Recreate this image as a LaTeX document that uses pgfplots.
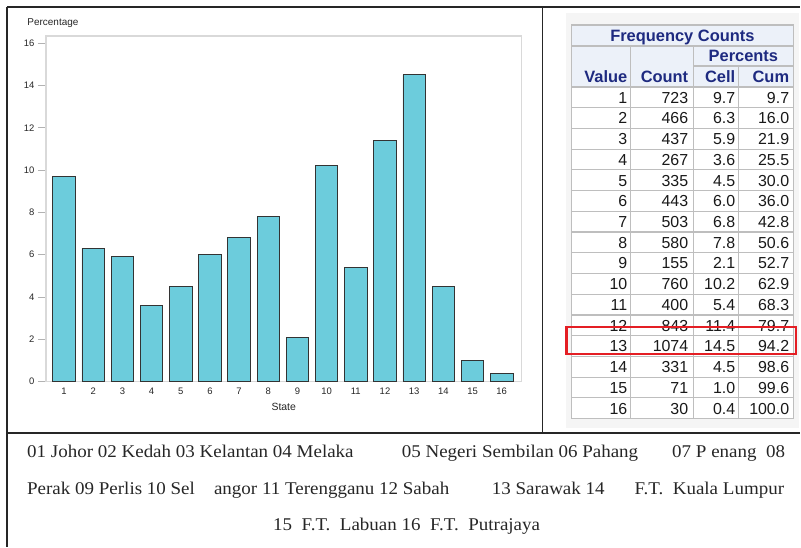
\documentclass[border=0pt]{standalone}
\usepackage{pgfplots}
\pgfplotsset{compat=1.18}
\usepackage{fontspec}
\setmainfont{Liberation Serif}
\newfontfamily\arial{Liberation Sans}
\definecolor{barfill}{RGB}{108,204,220}
\definecolor{hdr}{RGB}{30,42,128}
\definecolor{hdrbg}{RGB}{236,241,249}
\definecolor{gridc}{RGB}{190,190,190}
\definecolor{redbox}{RGB}{228,30,36}
\newcommand\sx[1]{\scalebox{1.06}[1]{#1}}
\begin{document}
\begin{tikzpicture}
\begin{scope}[x=1bp,y=1bp]
\useasboundingbox (0,0) rectangle (801,547);
\end{scope}
% ---------- chart ----------
\begin{axis}[
  at={(46bp,165bp)}, anchor=south west, scale only axis,
  width=476bp, height=346bp,
  xmin=0.38, xmax=16.68, ymin=0, ymax=16.34,
  xtick={1,...,16}, ytick={0,2,...,16},
  xtick pos=bottom, ytick pos=left, tick align=outside,
  major tick length=8bp,
  xtick style={draw=none},
  ytick style={draw=gray!60, line width=0.8bp},
  axis line style={draw=gray!30, line width=1.2bp},
  /pgf/number format/assume math mode=true,
  ticklabel style={font=\arial\fontsize{9.5}{11}\selectfont, text=black!85},
  xticklabel style={yshift=5bp},
  xlabel={State}, ylabel={Percentage},
  xlabel style={font=\arial\fontsize{10.5}{12}\selectfont, text=black!85,
    at={(axis description cs:0.5,0)}, anchor=base, yshift=-29bp},
  ylabel style={font=\arial\fontsize{10}{12}\selectfont, text=black!85,
    rotate=-90, at={(axis description cs:0,1)}, anchor=base west, xshift=-22bp, yshift=10bp},
]
\addplot[ybar, bar width=0.77, fill=barfill, draw=black!80, line width=0.8bp]
coordinates {(1,9.7) (2,6.3) (3,5.9) (4,3.6) (5,4.5) (6,6.0) (7,6.8) (8,7.8)
 (9,2.1) (10,10.2) (11,5.4) (12,11.4) (13,14.5) (14,4.5) (15,1.0) (16,0.4)};
\end{axis}
\begin{scope}[x=1bp,y=1bp]
% ---------- frame ----------
\draw[line width=1.4bp, black!85] (7,540) -- (801,540);
\draw[line width=1.4bp, black!85] (7,540) -- (7,0);
\draw[line width=1.4bp, black!85] (543,540) -- (543,113.5);
\draw[line width=1.4bp, black!85] (7,113.5) -- (801,113.5);
% ---------- table ----------
\fill[black!4] (566,534) rectangle (800,119);
\fill[hdrbg] (572,522) rectangle (794,460);
\fill[white] (572,460) rectangle (794,128);
\begin{scope}[gridc, line width=1.2bp]
\draw (572,522) rectangle (794,128);
\draw (572,501) -- (794,501);
\draw (694,481) -- (794,481);
\draw (572,460) -- (794,460);
\foreach \k in {1,...,15} \draw (572,460-\k*20.75) -- (794,460-\k*20.75);
\draw (631,501) -- (631,128);
\draw (694,501) -- (694,128);
\draw (739,481) -- (739,128);
\end{scope}
\begin{scope}[font=\arial\bfseries\fontsize{16.5}{18}\selectfont, text=hdr]
\node[anchor=base] at (683,505.5) {Frequency Counts};
\node[anchor=base] at (744,485) {Percents};
\node[anchor=base east, inner sep=0pt] at (628,464.5) {Value};
\node[anchor=base east, inner sep=0pt] at (689,464.5) {Count};
\node[anchor=base east, inner sep=0pt] at (736,464.5) {Cell};
\node[anchor=base east, inner sep=0pt] at (790,464.5) {Cum};
\end{scope}
\begin{scope}[font=\arial\fontsize{16}{18}\selectfont, text=black!90]
\foreach \v/\c/\p/\q [count=\i] in {1/723/9.7/9.7, 2/466/6.3/16.0, 3/437/5.9/21.9,
  4/267/3.6/25.5, 5/335/4.5/30.0, 6/443/6.0/36.0, 7/503/6.8/42.8, 8/580/7.8/50.6,
  9/155/2.1/52.7, 10/760/10.2/62.9, 11/400/5.4/68.3, 12/843/11.4/79.7,
  13/1074/14.5/94.2, 14/331/4.5/98.6, 15/71/1.0/99.6, 16/30/0.4/100.0} {
  \pgfmathsetmacro\yb{454.2-(\i-0.5)*20.75}
  \node[anchor=base east, inner sep=0pt] at (628,\yb) {\v};
  \node[anchor=base east, inner sep=0pt] at (689,\yb) {\c};
  \node[anchor=base east, inner sep=0pt] at (736,\yb) {\p};
  \node[anchor=base east, inner sep=0pt] at (790,\yb) {\q};
}
\end{scope}
\draw[redbox, line width=2.2bp] (567,220) rectangle (797,193);
% ---------- bottom text ----------
\begin{scope}[font=\fontsize{18}{20}\selectfont, text=black!85, inner sep=0pt]
\node[anchor=base west] at (27,89) {\sx{01 Johor 02 Kedah 03 Kelantan 04 Melaka}};
\node[anchor=base west] at (402,89) {\sx{05 Negeri Sembilan 06 Pahang}};
\node[anchor=base east] at (786,89) {\sx{07 P enang\ \ 08}};
\node[anchor=base west] at (27,52) {\sx{Perak 09 Perlis 10 Sel}};
\node[anchor=base west] at (214,52) {\sx{angor 11 Terengganu 12 Sabah}};
\node[anchor=base west] at (492,52) {\sx{13 Sarawak 14}};
\node[anchor=base east] at (785,52) {\sx{F.T.\ \ Kuala Lumpur}};
\node[anchor=base] at (407,16) {\sx{15\ \ F.T.\ \ Labuan 16\ \ F.T.\ \ Putrajaya}};
\end{scope}
\end{scope}
\end{tikzpicture}
\end{document}
